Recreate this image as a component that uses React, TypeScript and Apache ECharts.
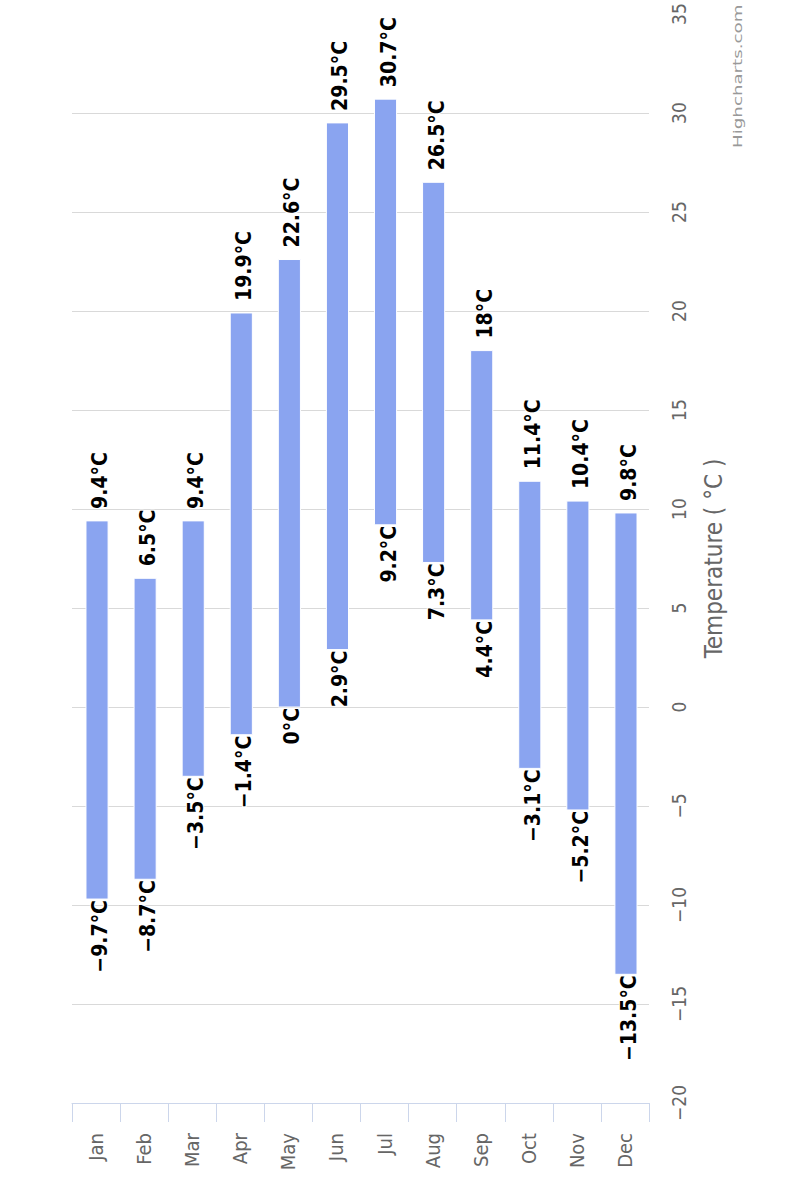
import { useEffect, useRef } from 'react';
import * as echarts from 'echarts';

const months = ['Jan', 'Feb', 'Mar', 'Apr', 'May', 'Jun', 'Jul', 'Aug', 'Sep', 'Oct', 'Nov', 'Dec'];
const lowTemps = [-9.7, -8.7, -3.5, -1.4, 0, 2.9, 9.2, 7.3, 4.4, -3.1, -5.2, -13.5];
const highTemps = [9.4, 6.5, 9.4, 19.9, 22.6, 29.5, 30.7, 26.5, 18, 11.4, 10.4, 9.8];

const FONT = '"DejaVu Sans Condensed", "DejaVu Sans", Verdana, sans-serif';
const minus = (v: number | string) => String(v).replace('-', '\u2212');

export default function App() {
  const chartRef = useRef<HTMLDivElement>(null);

  useEffect(() => {
    document.body.style.margin = '0';
    if (!chartRef.current) return;
    const chart = echarts.init(chartRef.current, undefined, { renderer: 'svg' });

    const rangeData = months.map((_, i) => [i, lowTemps[i], highTemps[i]]);

    const option: echarts.EChartsOption = {
      animation: false,
      backgroundColor: '#fff',
      grid: { left: 72, right: 151, top: 14, bottom: 97 },
      xAxis: {
        type: 'category',
        data: months,
        axisLine: { onZero: false, lineStyle: { color: '#ccd6eb', width: 1 } },
        axisTick: { show: true, length: 19, alignWithLabel: false, interval: 0, lineStyle: { color: '#ccd6eb' } },
        axisLabel: {
          rotate: 90,
          margin: 30,
          interval: 0,
          color: '#666',
          fontSize: 20,
          fontFamily: FONT,
        },
        splitLine: { show: false },
      },
      yAxis: {
        type: 'value',
        position: 'right',
        min: -20,
        max: 35,
        interval: 5,
        name: 'Temperature ( °C )',
        nameLocation: 'middle',
        nameRotate: 90,
        nameGap: 53,
        nameTextStyle: { color: '#666', fontSize: 24, fontFamily: FONT },
        axisLine: { show: false },
        axisTick: { show: false },
        axisLabel: {
          rotate: 90,
          margin: 20,
          color: '#666',
          fontSize: 19,
          fontFamily: FONT,
          formatter: (v: number) => minus(v),
        },
        splitLine: { show: true, showMaxLine: false, lineStyle: { color: '#d9d9d9', width: 1 } },
      },
      graphic: [
        {
          type: 'text',
          x: 738,
          y: 148,
          rotation: Math.PI / 2,
          scaleX: 1.52,
          style: {
            text: 'Highcharts.com',
            fill: '#999',
            font: `12px "DejaVu Sans", sans-serif`,
            align: 'left',
            verticalAlign: 'middle',
          },
        },
      ],
      series: [
        {
          type: 'custom',
          data: rangeData,
          encode: { x: 0, y: [1, 2] },
          renderItem: (params: any, api: any) => {
            const idx = api.value(0);
            const low = api.value(1);
            const high = api.value(2);
            const top = api.coord([idx, high]);
            const bottom = api.coord([idx, low]);
            const barWidth = api.size([1, 0])[0] * 0.46;
            const cx = top[0] + 1;
            const labelFont = `bold 21px ${FONT}`;
            return {
              type: 'group',
              children: [
                {
                  type: 'rect',
                  shape: { x: cx - barWidth / 2, y: top[1], width: barWidth, height: bottom[1] - top[1] },
                  style: { fill: '#8aa4f0', stroke: '#fff', lineWidth: 1 },
                },
                {
                  type: 'text',
                  x: cx + 3,
                  y: top[1] - 12,
                  rotation: Math.PI / 2,
                  style: {
                    text: `${minus(high)}°C`,
                    font: labelFont,
                    fill: '#000',
                    stroke: '#fff',
                    lineWidth: 2,
                    align: 'left',
                    verticalAlign: 'middle',
                  },
                },
                {
                  type: 'text',
                  x: cx + 3,
                  y: bottom[1] + 1,
                  rotation: Math.PI / 2,
                  style: {
                    text: `${minus(low)}°C`,
                    font: labelFont,
                    fill: '#000',
                    stroke: '#fff',
                    lineWidth: 2,
                    align: 'right',
                    verticalAlign: 'middle',
                  },
                },
              ],
            };
          },
        },
      ],
    };

    chart.setOption(option);
    return () => chart.dispose();
  }, []);

  return <div ref={chartRef} style={{ width: 800, height: 1200 }} />;
}
